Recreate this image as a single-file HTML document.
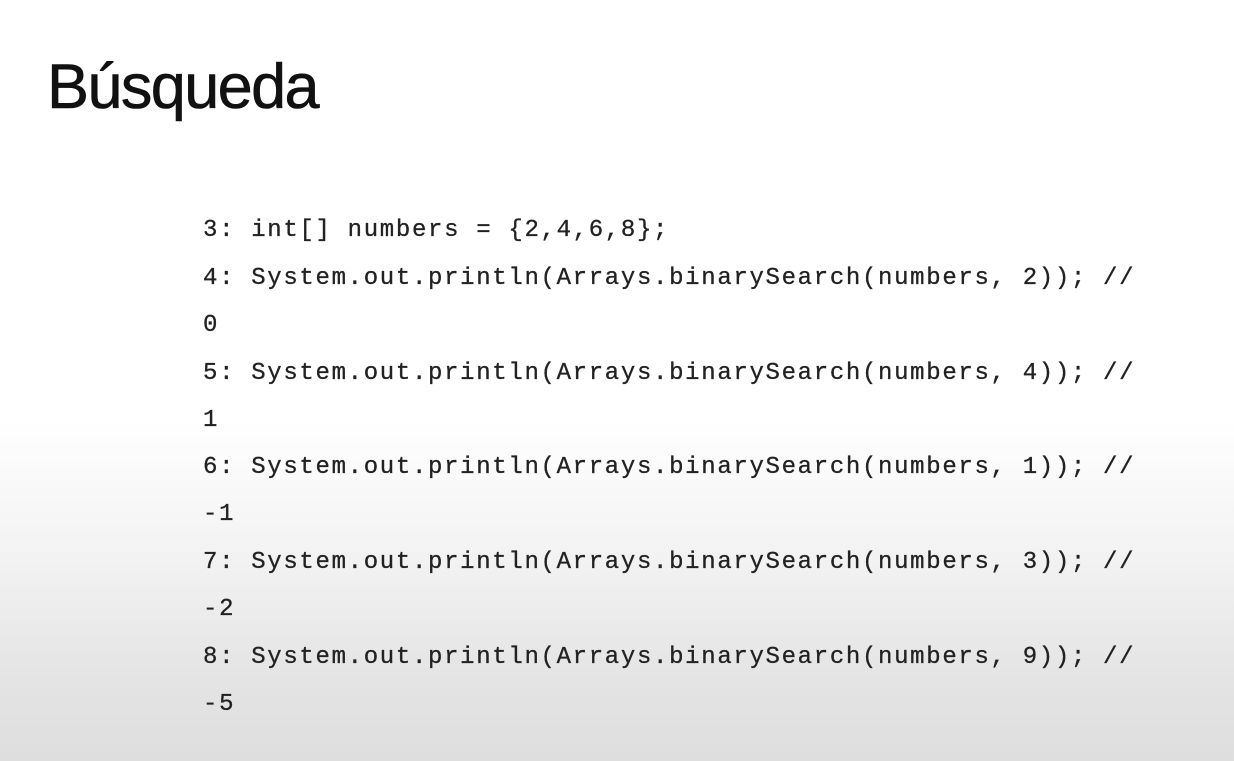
<!DOCTYPE html>
<html><head><meta charset="utf-8"><style>
html,body{margin:0;padding:0}
body{width:1234px;height:761px;overflow:hidden;position:relative;
background:linear-gradient(to bottom,#ffffff 0px,#ffffff 420px,#f2f2f2 560px,#e4e4e4 680px,#dedede 761px);
font-family:"Liberation Sans",sans-serif}
.t{position:absolute;left:47px;top:52px;font-size:63px;color:#111;letter-spacing:-1.6px;line-height:70px;-webkit-text-stroke:0.6px #111}
.c{position:absolute;left:203px;font-family:"Liberation Mono",monospace;font-size:24px;letter-spacing:1.67px;color:#222;white-space:pre;line-height:30px;-webkit-text-stroke:0.3px #222}
</style></head><body>
<div class="t">Búsqueda</div>
<div class="c" style="top:216px">3: int[] numbers = {2,4,6,8};</div>
<div class="c" style="top:264px">4: System.out.println(Arrays.binarySearch(numbers, 2)); //</div>
<div class="c" style="top:311px">0</div>
<div class="c" style="top:359px">5: System.out.println(Arrays.binarySearch(numbers, 4)); //</div>
<div class="c" style="top:406px">1</div>
<div class="c" style="top:453px">6: System.out.println(Arrays.binarySearch(numbers, 1)); //</div>
<div class="c" style="top:500px">-1</div>
<div class="c" style="top:548px">7: System.out.println(Arrays.binarySearch(numbers, 3)); //</div>
<div class="c" style="top:595px">-2</div>
<div class="c" style="top:643px">8: System.out.println(Arrays.binarySearch(numbers, 9)); //</div>
<div class="c" style="top:690px">-5</div>
</body></html>
